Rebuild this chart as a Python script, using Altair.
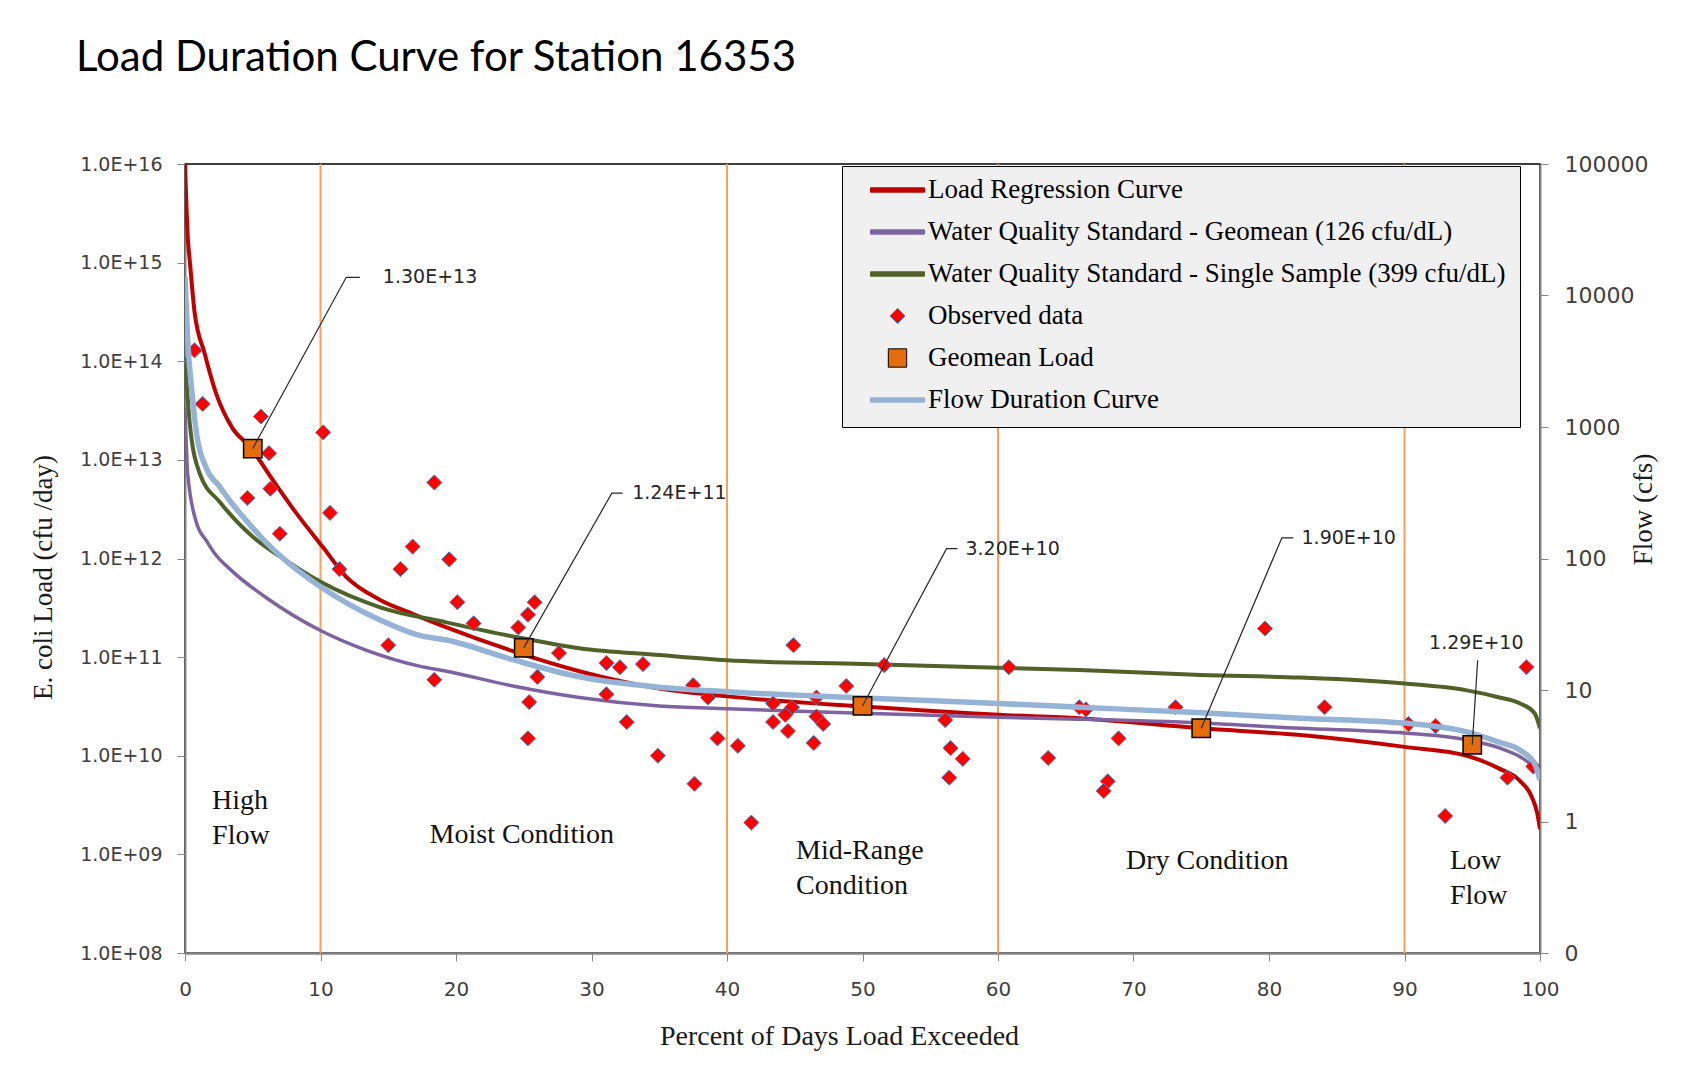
import altair as alt
import pandas as pd

# ---------------- data ----------------
SERIES = [
    "Load Regression Curve",
    "Water Quality Standard - Geomean (126 cfu/dL)",
    "Water Quality Standard - Single Sample (399 cfu/dL)",
    "Observed data",
    "Geomean Load",
    "Flow Duration Curve",
]

regr_pct = [0, 0.22, 0.35, 0.7, 1.45, 2.3, 3.5, 4.8, 6.5, 8.2, 10.2, 11.9, 14.4, 16.8, 19.3,
            24.2, 29.1, 35, 40, 50, 60, 66, 75, 82.3, 90, 94.6, 97, 98.5, 99.4, 99.8, 100]
regr_load = [1.0e16, 1.66e15, 1.05e15, 3.2e14, 1.2e14, 4.7e13, 2.1e13, 1.35e13, 6.2e12, 2.9e12,
             1.29e12, 6.5e11, 3.8e11, 2.75e11, 2.0e11, 1.15e11, 7.2e10, 4.8e10, 4.0e10, 3.15e10,
             2.6e10, 2.4e10, 1.9e10, 1.62e10, 1.23e10, 1.0e10, 7.4e9, 5.6e9, 3.8e9, 2.6e9, 1.8e9]

geo_pct = [0, 0.2, 0.85, 1.6, 2.1, 3.5, 6.0, 10, 13.4, 17.3, 19.3, 24.2, 29.1, 35, 40,
           50, 60, 66, 75, 82.3, 90, 94.6, 97, 98.5, 99.6, 100]
geo_load = [3.4e13, 7.2e12, 2.3e12, 1.5e12, 1.17e12, 7.4e11, 4.0e11, 1.86e11, 1.17e11, 8.1e10,
            7.2e10, 5.1e10, 3.9e10, 3.2e10, 3.0e10, 2.7e10, 2.45e10, 2.35e10, 2.15e10, 1.9e10,
            1.7e10, 1.45e10, 1.2e10, 9.8e9, 7.6e9, 6.6e9]

ss_pct = [0, 0.35, 1.1, 2.6, 5, 7, 10, 14.4, 19.3, 24.2, 29.1, 35, 40, 50, 60,
          66, 75, 82.3, 90, 94.6, 97, 98.5, 99.6, 100]
ss_load = [1.1e14, 2.35e13, 7.2e12, 3.7e12, 1.66e12, 1.05e12, 5.8e11, 3.2e11, 2.25e11, 1.62e11,
           1.23e11, 1.05e11, 9.3e10, 8.5e10, 7.8e10, 7.4e10, 6.6e10, 6.2e10, 5.4e10, 4.6e10,
           3.9e10, 3.4e10, 2.7e10, 1.9e10]

flow_pct = [0, 0.2, 0.5, 0.85, 1.6, 2.5, 3.5, 4.7, 6, 7.5, 10, 14.4, 17.3, 19.3, 24.2, 29.1,
            35, 40, 50, 60, 66, 75, 82.3, 90, 94.6, 97, 98.5, 99.6, 100]
flow_cfs = [13800, 4570, 1900, 890, 479, 358, 260, 185, 132, 95, 61, 34, 26, 24, 17, 12.6,
            10.5, 9.7, 8.7, 7.9, 7.4, 6.7, 6.1, 5.6, 4.8, 4.0, 3.5, 2.75, 2.07]

obs_pct = [0.7, 1.3, 5.6, 6.2, 10.2, 6.3, 4.6, 10.7, 18.4, 7.0, 16.8, 19.5, 15.9, 11.4, 20.1,
           21.3, 25.8, 25.3, 24.6, 27.6, 15.0, 18.4, 26.0, 25.4, 25.3, 31.1, 32.1, 33.8, 31.1, 32.6,
           34.9, 37.6, 41.8, 37.5, 38.6, 39.3, 40.8, 44.9, 43.4, 44.8, 44.3, 43.4, 44.5, 46.6, 46.6,
           47.1, 46.4, 48.8, 51.6, 56.1, 56.5, 57.4, 56.4, 60.8, 63.7, 66.0, 66.5, 68.9, 68.1, 67.8,
           73.1, 79.7, 84.1, 90.3, 92.3, 93.0, 97.6, 99.0, 99.5]
obs_load = [1.29e14, 3.7e13, 2.75e13, 1.17e13, 1.9e13, 5.1e12, 4.1e12, 2.9e12, 5.9e12, 1.78e12,
            1.32e12, 9.8e11, 7.8e11, 7.8e11, 3.6e11, 2.2e11, 3.6e11, 2.7e11, 2.0e11, 1.1e11,
            1.32e11, 5.9e10, 6.3e10, 3.5e10, 1.5e10, 8.7e10, 7.9e10, 8.5e10, 4.2e10, 2.2e10,
            1.0e10, 5.2e9, 2.1e9, 5.2e10, 3.9e10, 1.5e10, 1.26e10, 1.32e11, 3.4e10, 3.1e10,
            2.6e10, 2.2e10, 1.78e10, 3.9e10, 2.5e10, 2.1e10, 1.35e10, 5.1e10, 8.3e10, 2.3e10,
            1.2e10, 9.3e9, 6.0e9, 7.9e10, 9.5e9, 3.1e10, 2.95e10, 1.5e10, 5.5e9, 4.4e9,
            3.1e10, 1.95e11, 3.1e10, 2.1e10, 2.0e10, 2.45e9, 6.0e9, 7.9e10, 7.8e9]

gm_pct = [5, 25, 50, 75, 95]
gm_load = [1.30e13, 1.24e11, 3.20e10, 1.90e10, 1.29e10]
gm_label = ["1.30E+13", "1.24E+11", "3.20E+10", "1.90E+10", "1.29E+10"]

zone_bounds = [10, 40, 60, 90]

# annotation anchors (data units)
lead_elbow_pct = [11.9, 31.5, 56.2, 80.95, 95.4]
lead_elbow_load = [7.1e14, 4.6e12, 1.26e12, 1.62e12, 9.3e10]
lead_end_pct = [12.9, 32.3, 57.0, 81.8, None]
lead_text_pct = [14.6, 33.0, 57.6, 82.4, 95.3]
lead_text_load = [7.1e14, 4.6e12, 1.26e12, 1.62e12, 1.38e11]

zone_text = ["High", "Flow", "Moist Condition", "Mid-Range", "Condition", "Dry Condition", "Low", "Flow"]
zone_text_pct = [2.0, 2.0, 18.05, 45.1, 45.1, 69.45, 93.35, 93.35]
zone_text_load = [3.5e9, 1.55e9, 1.58e9, 1.07e9, 4.8e8, 8.5e8, 8.5e8, 3.8e8]

# ---------------- frames ----------------
def curve(pcts, vals, name):
    return pd.DataFrame({"p": pcts, "load": vals, "series": name})

regr_df = curve(regr_pct, regr_load, SERIES[0])
geo_df = curve(geo_pct, geo_load, SERIES[1])
ss_df = curve(ss_pct, ss_load, SERIES[2])
flow_df = pd.DataFrame({"p": flow_pct, "flow": flow_cfs})
obs_df = pd.DataFrame({"p": obs_pct, "load": obs_load, "series": SERIES[3]})
gm_df = pd.DataFrame({"p": gm_pct, "load": gm_load, "series": SERIES[4]})
zone_df = pd.DataFrame({"p": zone_bounds})

rows = []
for i in range(len(gm_pct)):
    rows.append({"id": i, "o": 0, "p": gm_pct[i], "load": gm_load[i]})
    rows.append({"id": i, "o": 1, "p": lead_elbow_pct[i], "load": lead_elbow_load[i]})
    if lead_end_pct[i] is not None:
        rows.append({"id": i, "o": 2, "p": lead_end_pct[i], "load": lead_elbow_load[i]})
lead_df = pd.DataFrame(rows)
ltext_left = pd.DataFrame({"p": lead_text_pct[:4], "load": lead_text_load[:4], "t": gm_label[:4]})
ltext_mid = pd.DataFrame({"p": lead_text_pct[4:], "load": lead_text_load[4:], "t": gm_label[4:]})
ztext_df = pd.DataFrame({"p": zone_text_pct, "load": zone_text_load, "t": zone_text})

# ---------------- scales / axes ----------------
AX_GRAY = "#868686"
x_scale = alt.Scale(domain=[0, 100], nice=False, zero=False)
yl_scale = alt.Scale(type="log", domain=[1e8, 1e16], nice=False)
yr_scale = alt.Scale(type="log", domain=[0.1, 1e5], nice=False)

x_axis = alt.Axis(
    title="Percent of Days Load Exceeded", values=list(range(0, 101, 10)), grid=False, labelFlush=False,
    domainColor=AX_GRAY, domainWidth=2.5, tickColor=AX_GRAY, tickSize=8,
    labelFont="DejaVu Sans", labelFontSize=20, labelColor="#404040", labelPadding=18,
    titleFont="Liberation Serif", titleFontSize=28, titleFontWeight="normal", titleColor="#1a1a1a",
    titleX=654, titleY=83, titleAlign="center", titleBaseline="middle",
)
yl_axis = alt.Axis(
    title="E. coli Load (cfu /day)", values=[10.0 ** k for k in range(8, 17)], grid=False, labelFlush=False,
    labelExpr="'1.0E+' + (round(log(datum.value)/LN10) < 10 ? '0' : '') + round(log(datum.value)/LN10)",
    domainColor=AX_GRAY, domainWidth=2, tickColor=AX_GRAY, tickSize=8,
    labelFont="DejaVu Sans", labelFontSize=19, labelColor="#404040", labelPadding=15,
    titleFont="Liberation Serif", titleFontSize=27, titleFontWeight="normal", titleColor="#1a1a1a",
    titleX=-142, titleY=413, titleAlign="center", titleBaseline="middle", titleAngle=270,
)
yr_axis = alt.Axis(
    title="Flow (cfs)", orient="right", values=[0.1, 1, 10, 100, 1000, 10000, 100000], grid=False,
    labelFlush=False, labelExpr="datum.value < 1 ? '0' : format(datum.value, 'd')",
    domainColor=AX_GRAY, domainWidth=2, tickColor=AX_GRAY, tickSize=8,
    labelFont="DejaVu Sans", labelFontSize=22, labelColor="#404040", labelPadding=16,
    titleFont="Liberation Serif", titleFontSize=27, titleFontWeight="normal", titleColor="#1a1a1a",
    titleX=103, titleY=345, titleAlign="center", titleBaseline="middle", titleAngle=270,
)

X = alt.X("p:Q", scale=x_scale, axis=x_axis)
YL = alt.Y("load:Q", scale=yl_scale, axis=yl_axis)
YL2 = alt.Y("load:Q", scale=yl_scale, axis=None)

# legend / marker glyphs (unit-square paths, scaled by the symbol size)
BAR = "M-1,-0.08H1V0.08H-1Z"
DIAMOND = "M0,-0.28L0.28,0L0,0.28L-0.28,0Z"
SQUARE = "M-0.34,-0.34H0.34V0.34H-0.34Z"
SYM_SIZE = 2916

leg = alt.Legend(title=None)
sym_enc = dict(
    fill=alt.Fill("series:N", scale=alt.Scale(domain=SERIES, range=["#C00000", "#8064A2", "#4F6228", "#FF0000", "#E46C0A", "#95B3D7"]), legend=leg),
    stroke=alt.Stroke("series:N", scale=alt.Scale(domain=SERIES, range=["#C00000", "#8064A2", "#4F6228", "#4F81BD", "#000000", "#95B3D7"]), legend=leg),
    shape=alt.Shape("series:N", scale=alt.Scale(domain=SERIES, range=[BAR, BAR, BAR, DIAMOND, SQUARE, BAR]), legend=leg),
)

# ---------------- layers ----------------
rules = alt.Chart(zone_df).mark_rule(color="#F6A25E", strokeWidth=2).encode(x=X)

def line(df, color, w):
    return alt.Chart(df).mark_line(color=color, strokeWidth=w, interpolate="monotone", clip=True).encode(x=X, y=YL)

red = line(regr_df, "#C00000", 4)
purple = line(geo_df, "#7F62A1", 3.5)
green = line(ss_df, "#4F6228", 4)

diamonds = alt.Chart(obs_df).mark_point(filled=True, opacity=1, strokeWidth=1, size=SYM_SIZE).encode(
    x=X, y=YL, **sym_enc)

ztext = alt.Chart(ztext_df).mark_text(font="Liberation Serif", fontSize=28, align="left",
                                      baseline="middle", color="#111111").encode(x=X, y=YL, text="t:N")

left_group = alt.layer(rules, red, purple, green, diamonds, ztext)

flow = alt.Chart(flow_df).mark_line(color="#95B3D7", strokeWidth=5.5, interpolate="monotone", clip=True).encode(
    x=X, y=alt.Y("flow:Q", scale=yr_scale, axis=yr_axis))

squares = alt.Chart(gm_df).mark_point(filled=True, opacity=1, strokeWidth=1.5, size=SYM_SIZE).encode(
    x=X, y=YL2, **sym_enc)
leaders = alt.Chart(lead_df).mark_line(color="#262626", strokeWidth=1.2).encode(
    x=X, y=YL2, detail="id:N", order="o:Q")
lt1 = alt.Chart(ltext_left).mark_text(font="DejaVu Sans", fontSize=19, align="left", baseline="middle",
                                      color="#262626").encode(x=X, y=YL2, text="t:N")
lt2 = alt.Chart(ltext_mid).mark_text(font="DejaVu Sans", fontSize=19, align="center", baseline="middle",
                                     color="#262626").encode(x=X, y=YL2, text="t:N")
top_group = alt.layer(squares, leaders, lt1, lt2)

chart = alt.layer(left_group, flow, top_group).resolve_scale(y="independent").properties(
    width=1355, height=789,
    padding={"left": 177, "top": 156, "right": 150, "bottom": 115},
    autosize=alt.AutoSizeParams(type="none"),
    title=alt.TitleParams(
        "Load Duration Curve for Station 16353", font="Lato", fontSize=42,
        fontWeight="normal", color="#000000", anchor="start", frame="group", dx=-109, offset=40,
        baseline="alphabetic",
    ),
).configure_view(stroke="#000000", strokeWidth=1.5).configure_legend(
    orient="none", legendX=657, legendY=2, fillColor="#F0F0F0", strokeColor="#000000",
    padding=14, rowPadding=15, clipHeight=20, symbolOffset=14, labelOffset=3,
    labelFont="Liberation Serif", labelFontSize=27, labelColor="#000000", labelLimit=900,
    symbolStrokeWidth=1, symbolSize=SYM_SIZE,
)

chart.save("out.html", embed_options={"renderer": "svg", "actions": False})
